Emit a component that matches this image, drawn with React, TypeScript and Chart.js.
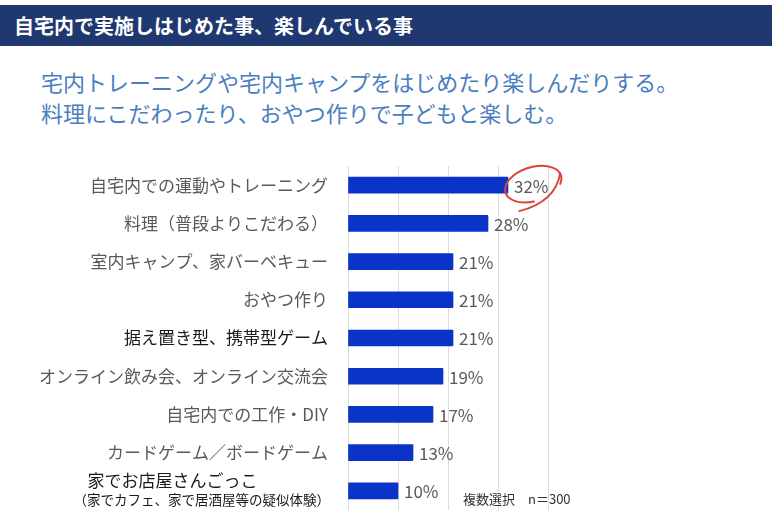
import React, { useEffect, useRef } from "react";
import { Chart, registerables } from "chart.js";

Chart.register(...registerables);

const titleText = "自宅内で実施しはじめた事、楽しんでいる事";
const subtitleLines = [
  "宅内トレーニングや宅内キャンプをはじめたり楽しんだりする。",
  "料理にこだわったり、おやつ作りで子どもと楽しむ。",
];
const categories = [
  "自宅内での運動やトレーニング",
  "料理（普段よりこだわる）",
  "室内キャンプ、家バーベキュー",
  "おやつ作り",
  "据え置き型、携帯型ゲーム",
  "オンライン飲み会、オンライン交流会",
  "自宅内での工作・DIY",
  "カードゲーム／ボードゲーム",
  "家でお店屋さんごっこ\n（家でカフェ、家で居酒屋等の疑似体験）",
];
const values = [32, 28, 21, 21, 21, 19, 17, 13, 10];
const darkLabels = [4, 8];
const noteText = "複数選択　n＝300";
const highlightIndex = 0;

const FONT = '"Noto Sans CJK JP", "Noto Sans", sans-serif';

const labelPlugin = {
  id: "customLabels",
  afterDraw(chart: any) {
    const { ctx, chartArea } = chart;
    const y = chart.scales.y;
    const x = chart.scales.x;
    ctx.save();
    const right = chartArea.left - 20;
    categories.forEach((c, i) => {
      const py = y.getPixelForValue(i);
      const lines = c.split("\n");
      ctx.fillStyle = darkLabels.includes(i) ? "#1a1a1a" : "#595959";
      ctx.textBaseline = "middle";
      if (lines.length === 1) {
        ctx.font = `17px ${FONT}`;
        ctx.textAlign = "right";
        ctx.fillText(lines[0], right, py);
      } else {
        ctx.font = `13.5px ${FONT}`;
        const w2 = ctx.measureText(lines[1]).width;
        ctx.textAlign = "right";
        ctx.fillStyle = "#1a1a1a";
        ctx.fillText(lines[1], right + 2, py + 9);
        ctx.font = `17px ${FONT}`;
        ctx.textAlign = "left";
        ctx.fillText(lines[0], right - w2 + 16, py - 10);
      }
    });
    // value labels
    ctx.font = `17px ${FONT}`;
    ctx.textAlign = "left";
    ctx.textBaseline = "middle";
    ctx.fillStyle = "#595959";
    values.forEach((v, i) => {
      const px = x.getPixelForValue(v);
      const py = y.getPixelForValue(i);
      ctx.fillText(`${v}%`, px + 6, py + 1);
    });
    // red hand-drawn ellipse
    const hv = values[highlightIndex];
    const hx = x.getPixelForValue(hv) + 6;
    const w = ctx.measureText(`${hv}%`).width;
    const cx = hx + w / 2;
    const cy = y.getPixelForValue(highlightIndex);
    ctx.strokeStyle = "#d9443b";
    ctx.lineWidth = 2;
    ctx.lineCap = "round";
    ctx.beginPath();
    ctx.ellipse(cx + 2, cy - 1, 29, 17, -0.3, Math.PI * 0.55, Math.PI * 2.15);
    ctx.stroke();
    ctx.beginPath();
    ctx.moveTo(cx + 29, cy - 12);
    ctx.quadraticCurveTo(cx + 24, cy + 17, cx - 12, cy + 26);
    ctx.stroke();
    // note
    ctx.font = `13px ${FONT}`;
    ctx.fillStyle = "#333333";
    ctx.textAlign = "left";
    ctx.textBaseline = "middle";
    const last = values.length - 1;
    ctx.fillText(noteText, x.getPixelForValue(23), y.getPixelForValue(last) + 8);
    ctx.restore();
  },
};

export default function App() {
  const ref = useRef<HTMLCanvasElement>(null);
  useEffect(() => {
    if (!ref.current) return;
    const chart = new Chart(ref.current, {
      type: "bar",
      data: {
        labels: categories,
        datasets: [
          {
            data: values,
            backgroundColor: "#0a33c8",
            barThickness: 16,
            borderRadius: 1,
          },
        ],
      },
      options: {
        indexAxis: "y",
        animation: false,
        responsive: false,
        maintainAspectRatio: false,
        layout: { padding: { left: 348, right: 232, top: 26, bottom: 22 } },
        plugins: { legend: { display: false }, tooltip: { enabled: false } },
        scales: {
          x: {
            min: 0,
            max: 40,
            ticks: { display: false, stepSize: 10 },
            grid: { color: "#dcdcdc", drawTicks: false, lineWidth: 1 },
            border: { display: false },
          },
          y: { display: false },
        },
      },
      plugins: [labelPlugin],
    });
    return () => chart.destroy();
  }, []);

  return (
    <div
      style={{
        position: "fixed",
        left: 0,
        top: 0,
        width: 780,
        height: 532,
        background: "#ffffff",
        fontFamily: FONT,
        overflow: "hidden",
      }}
    >
      <div
        style={{
          position: "absolute",
          left: 0,
          top: 5,
          width: 772,
          height: 41,
          background: "#1f3870",
          color: "#ffffff",
          fontWeight: "bold",
          fontSize: 20,
          lineHeight: "41px",
          paddingLeft: 14,
          boxSizing: "border-box",
          whiteSpace: "nowrap",
        }}
      >
        {titleText}
      </div>
      <div
        style={{
          position: "absolute",
          left: 41,
          top: 66,
          color: "#4a7ebf",
          fontSize: 22,
          lineHeight: "31px",
          whiteSpace: "nowrap",
        }}
      >
        {subtitleLines.map((l, i) => (
          <div key={i}>{l}</div>
        ))}
      </div>
      <canvas
        ref={ref}
        width={780}
        height={392}
        style={{ position: "absolute", left: 0, top: 140, width: 780, height: 392 }}
      />
    </div>
  );
}
